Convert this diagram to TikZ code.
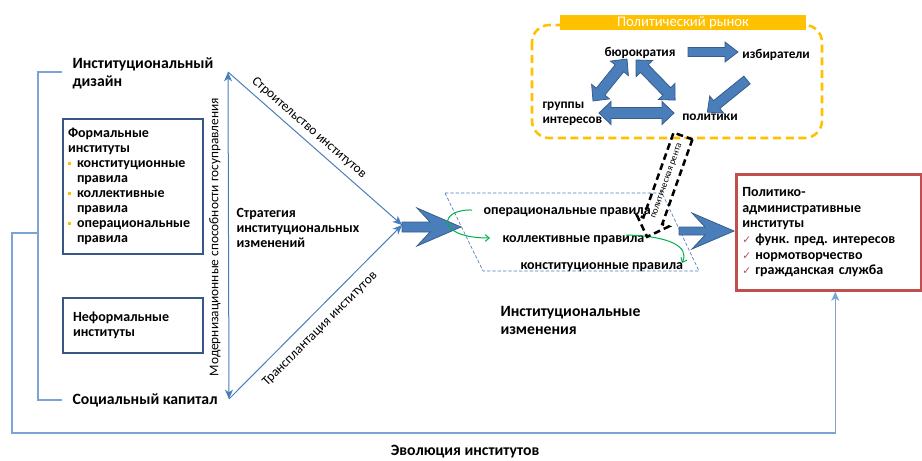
\documentclass[tikz,border=0pt]{standalone}
\usepackage{fontspec}
\setmainfont{Carlito}
\newfontfamily\chkfont{DejaVu Sans}
\usetikzlibrary{arrows.meta}
\frenchspacing

\definecolor{lineblue}{RGB}{74,126,187}
\definecolor{paleblue}{RGB}{125,163,214}
\definecolor{boxblue}{RGB}{56,87,135}
\definecolor{arrowedge}{RGB}{56,93,138}
\definecolor{mktorange}{RGB}{255,192,0}
\definecolor{boxred}{RGB}{192,80,77}
\definecolor{rulegreen}{RGB}{0,176,80}

\newcommand{\ybul}{\makebox[6.75pt][l]{\textcolor{mktorange}{\rule[2.2pt]{2.2pt}{2.2pt}}}}
\newcommand{\rchk}{\makebox[9.75pt][l]{\textcolor{boxred}{\chkfont\fontsize{8}{8}\selectfont ✓}}}

\tikzset{every picture/.style={line width=0.75pt}}
\tikzset{
  lbl/.style={inner sep=0pt, align=left, font=\fontsize{10}{11.25}\selectfont\bfseries},
  midlbl/.style={inner sep=0pt, align=left, font=\fontsize{10.5}{11.25}\selectfont\bfseries},
  biglbl/.style={inner sep=0pt, align=left, font=\fontsize{11.8}{13.5}\selectfont\bfseries},
  thinlbl/.style={inner sep=0pt, font=\fontsize{10}{12}\selectfont},
  instbox/.style={draw=boxblue, line width=1.5pt, anchor=north west, align=left, font=\fontsize{10.5}{11.25}\selectfont\bfseries},
  thinarrow/.style={draw=lineblue, line width=0.75pt, -{Stealth[length=7pt,width=6pt,inset=2pt]}},
  bracket/.style={draw=paleblue, line width=1.1pt},
  blockarrow/.style={fill=lineblue, draw=arrowedge, line width=0.6pt},
  greenarrow/.style={draw=rulegreen, line width=0.75pt, -{Straight Barb[length=3pt,width=5pt]}},
  paradash/.style={draw=lineblue, line width=0.5pt, dash pattern=on 2.5pt off 1.5pt},
}

\begin{document}
\begin{tikzpicture}[x=0.75pt,y=0.75pt,yscale=-1,xscale=1]
\useasboundingbox (0,0) rectangle (922,461);

% Left column
\node[biglbl, anchor=west] (design) at (72,73) {Институциональный\\дизайн};
\node[biglbl, anchor=west] (social) at (72,400) {Социальный капитал};
\node[instbox, minimum width=105pt, minimum height=101.25pt, text width=97.5pt, inner xsep=3.75pt] (formal) at (62,118)
  {Формальные\\институты\\\ybul конституционные\\\hspace*{6.75pt}правила\\\ybul коллективные\\\hspace*{6.75pt}правила\\\ybul операциональные\\\hspace*{6.75pt}правила};
\node[instbox, minimum width=105pt, minimum height=41.25pt, text width=90pt, inner xsep=7.5pt] (informal) at (62,297)
  {Неформальные\\институты};

% Bracket
\coordinate (brtop) at (62,72);
\coordinate (brbot) at (62,400);
\coordinate (evo) at (38,233);
\draw[bracket] (brtop) -- (38,72) -- (38,400) -- (brbot);

% Triangle of strategies
\coordinate (ttop) at (228,72);
\coordinate (tbot) at (229,399);
\coordinate (apex) at (402,225);
\draw[thinarrow, {Stealth[length=7pt,width=6pt,inset=2pt]}-{Stealth[length=7pt,width=6pt,inset=2pt]}] (ttop) -- (tbot);
\draw[thinarrow] (ttop) -- (apex);
\draw[thinarrow] (tbot) -- (apex);
\node[thinlbl, rotate=-41] (build) at (309,128) {Строительство институтов};
\node[thinlbl, rotate=45] (transp) at (320,329) {Трансплантация институтов};
\node[thinlbl, rotate=90] (modern) at (215,237) {Модернизационные способности госуправления};
\node[midlbl, anchor=west] (strat) at (236,228) {Стратегия\\институциональных\\изменений};

% Block arrow into the rules
\path[blockarrow] (402,222) -- (430,222) -- (417,208) -- (461,227) -- (417,246) -- (430,232) -- (402,232) -- cycle;

% Levels of rules
\draw[paradash] (445,193) -- (662,193) -- (699,271) -- (483,271) -- cycle;
\node[midlbl, anchor=west] (oper) at (483,212) {операциональные правила};
\node[midlbl, anchor=west] (coll) at (502,240) {коллективные правила};
\node[midlbl, anchor=west] (const) at (520,267) {конституционные правила};
\coordinate (g1s) at (472,210);
\coordinate (g1e) at (490,238);
\coordinate (g2s) at (626,235);
\coordinate (g2e) at (682,263);
\draw[greenarrow] (g1s) .. controls (438,209) and (436,238) .. (g1e);
\draw[greenarrow] (g2s) .. controls (668,236) and (690,246) .. (g2e);
\node[biglbl, anchor=west] (change) at (500,320) {Институциональные\\изменения};

% Block arrow to the outcome
\path[blockarrow] (679,227) -- (705,227) -- (692,213) -- (734,231) -- (692,249) -- (705,235) -- (679,235) -- cycle;

% Outcome box
\node[draw=boxred, line width=1.9pt, anchor=north west, minimum width=138.75pt, minimum height=87pt, text width=129.75pt, inner xsep=4.5pt, align=left, font=\fontsize{10.5}{11.7}\selectfont\bfseries] (pabox) at (735,173)
  {Политико-\\административные\\институты\\\rchk функ. пред. интересов\\\rchk нормотворчество\\\rchk гражданская служба};

% Evolution line
\draw[bracket, -{Stealth[length=7pt,width=6pt,inset=2pt]}] (evo) -| (12,433) -| ([xshift=4.9pt]pabox.south);
\node[biglbl] (evolbl) at (465,452) {Эволюция институтов};

% Political market
\draw[mktorange, line width=1.9pt, dash pattern=on 6pt off 3.5pt, rounded corners=13pt] (532,25) rectangle (822,138);
\node[fill=mktorange, text=white, minimum width=184.5pt, minimum height=11.25pt, inner sep=0pt, font=\fontsize{11}{12}\selectfont] (mkt) at (683,22.5) {Политический рынок};
\node[lbl] (bur) at (640,53) {бюрократия};
\node[lbl] (izb) at (776,55) {избиратели};
\node[lbl, anchor=west] (grp) at (542,114) {группы\\интересов};
\node[lbl] (pol) at (710,117) {политики};
\path[blockarrow] (688,47.5) -- (725,47.5) -- (725,42) -- (738,52) -- (725,62) -- (725,56.5) -- (688,56.5) -- cycle;
\begin{scope}[shift={(747,80)}, rotate=141]
  \path[blockarrow] (0,-5) -- (39,-5) -- (39,-11) -- (51,0) -- (39,11) -- (39,5) -- (0,5) -- cycle;
\end{scope}
\begin{scope}[shift={(627,59)}, rotate=129]
  \path[blockarrow] (0,0) -- (12,-11.5) -- (12,-5.5) -- (42,-5.5) -- (42,-11.5) -- (54,0) -- (42,11.5) -- (42,5.5) -- (12,5.5) -- (12,11.5) -- cycle;
\end{scope}
\begin{scope}[shift={(636,60)}, rotate=45.7]
  \path[blockarrow] (0,0) -- (12,-11.5) -- (12,-5.5) -- (44,-5.5) -- (44,-11.5) -- (56,0) -- (44,11.5) -- (44,5.5) -- (12,5.5) -- (12,11.5) -- cycle;
\end{scope}
\begin{scope}[shift={(599,113)}]
  \path[blockarrow] (0,0) -- (12,-11.5) -- (12,-5.5) -- (63,-5.5) -- (63,-11.5) -- (75,0) -- (63,11.5) -- (63,5.5) -- (12,5.5) -- (12,11.5) -- cycle;
\end{scope}

% Political rent
\begin{scope}[shift={(683,136)}, rotate=109.6]
  \draw[black, line width=1.9pt, dash pattern=on 5pt off 3pt] (0,-10) -- (90,-10) -- (90,-17) -- (107,0) -- (90,17) -- (90,10) -- (0,10) -- cycle;
\end{scope}
\node[inner sep=0pt, rotate=70.4, font=\fontsize{7}{8}\selectfont] (rent) at (667,181) {политическая рента};
\end{tikzpicture}
\end{document}
